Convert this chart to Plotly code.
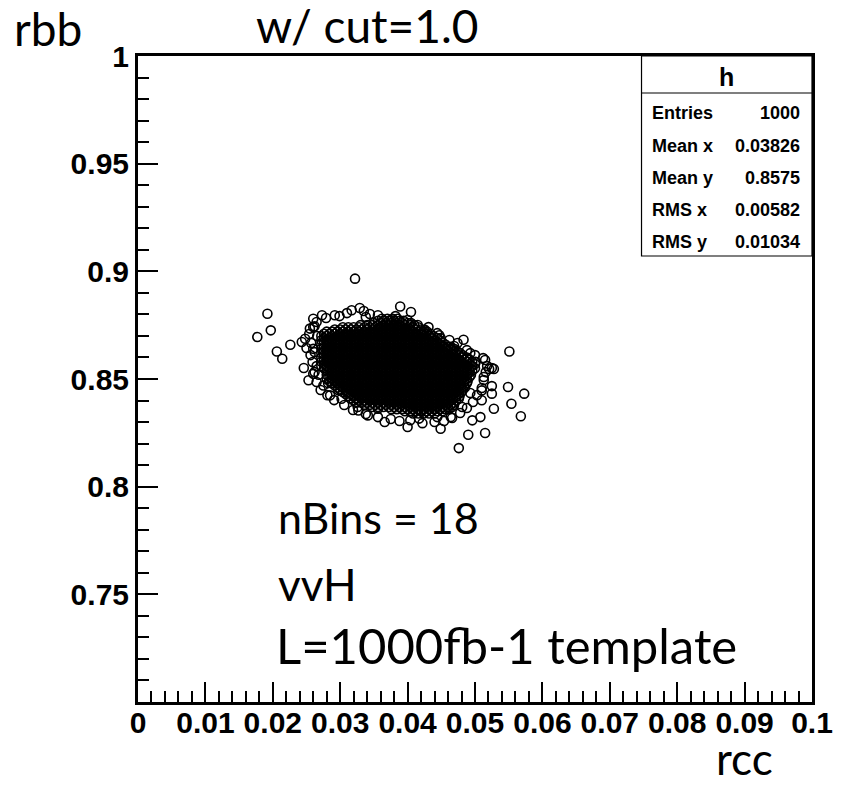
import plotly.graph_objects as go

# ---------------- data ----------------
# isolated / edge points around the dense core (rcc, rbb)
edge_rcc = [0.0322, 0.0192, 0.0197, 0.0177, 0.0206, 0.0214, 0.0226, 0.0260, 0.0273, 0.0292,
            0.0317, 0.0329, 0.0356, 0.0255, 0.0248, 0.0243, 0.0260, 0.0389, 0.0405, 0.0483,
            0.0469, 0.0551, 0.0447, 0.0246, 0.0260, 0.0253, 0.0285, 0.0302, 0.0327, 0.0341,
            0.0366, 0.0356, 0.0400, 0.0449, 0.0464, 0.0476, 0.0490, 0.0515, 0.0496, 0.0508,
            0.0528, 0.0510, 0.0525, 0.0525, 0.0549, 0.0554, 0.0573, 0.0568, 0.0525, 0.0510,
            0.0481, 0.0417, 0.0521, 0.0528, 0.0338, 0.0375, 0.0250, 0.0256, 0.0282, 0.0297,
            0.0326, 0.0444, 0.0493, 0.0513, 0.0515, 0.0493, 0.0449, 0.0425, 0.0405, 0.0262,
            0.0266, 0.0265, 0.0268, 0.0275]
edge_rbb = [0.8966, 0.8803, 0.8726, 0.8695, 0.8628, 0.8594, 0.8659, 0.8780, 0.8796, 0.8796,
            0.8819, 0.8830, 0.8796, 0.8734, 0.8687, 0.8672, 0.8640, 0.8837, 0.8811, 0.8682,
            0.8653, 0.8628, 0.8703, 0.8551, 0.8524, 0.8494, 0.8424, 0.8408, 0.8354, 0.8331,
            0.8300, 0.8362, 0.8277, 0.8269, 0.8323, 0.8179, 0.8241, 0.8249, 0.8308, 0.8323,
            0.8362, 0.8401, 0.8432, 0.8467, 0.8463, 0.8385, 0.8432, 0.8327, 0.8551, 0.8447,
            0.8370, 0.8316, 0.8547, 0.8547, 0.8788, 0.8774, 0.8644, 0.8611, 0.8481, 0.8449,
            0.8370, 0.8323, 0.8435, 0.8509, 0.8588, 0.8620, 0.8690, 0.8727, 0.8760, 0.8745,
            0.8700, 0.8560, 0.8520, 0.8470]

# open circles forming the ragged rim of the core
rim_rcc = [0.0265, 0.0279, 0.0299, 0.0310, 0.0335, 0.0344, 0.0382, 0.0400, 0.0415, 0.0431,
           0.0444, 0.0462, 0.0474, 0.0488, 0.0500, 0.0512, 0.0518, 0.0516, 0.0513, 0.0510,
           0.0503, 0.0497, 0.0488, 0.0478, 0.0466, 0.0454, 0.0440, 0.0422, 0.0404, 0.0388,
           0.0375, 0.0356, 0.0338, 0.0319, 0.0306, 0.0291, 0.0281, 0.0271, 0.0265, 0.0262,
           0.0259, 0.0262, 0.0257, 0.0254, 0.0260]
rim_rbb = [0.8765, 0.8783, 0.8792, 0.8806, 0.8816, 0.8802, 0.8792, 0.8774, 0.8751, 0.8741,
           0.8713, 0.8681, 0.8667, 0.8634, 0.8611, 0.8597, 0.8560, 0.8532, 0.8495, 0.8458,
           0.8425, 0.8393, 0.8365, 0.8342, 0.8319, 0.8305, 0.8300, 0.8295, 0.8309, 0.8305,
           0.8314, 0.8323, 0.8337, 0.8356, 0.8379, 0.8402, 0.8425, 0.8449, 0.8486, 0.8532,
           0.8579, 0.8625, 0.8667, 0.8709, 0.8741]

# dense (solid black) core, read row by row: rbb of each row and the rcc values along it
core_rbb_rows = [0.878, 0.877, 0.876, 0.875, 0.874, 0.873, 0.872, 0.871, 0.870, 0.869,
                 0.868, 0.867, 0.866, 0.865, 0.864, 0.863, 0.862, 0.861, 0.860, 0.859,
                 0.858, 0.857, 0.856, 0.855, 0.854, 0.853, 0.852, 0.851, 0.850, 0.849,
                 0.848, 0.847, 0.846, 0.845, 0.844, 0.843, 0.842, 0.841, 0.840, 0.839,
                 0.838, 0.837, 0.836, 0.835, 0.834]
core_rcc_rows = [
    [0.0362, 0.0370, 0.0378, 0.0385],
    [0.0356, 0.0364, 0.0372, 0.0380, 0.0388, 0.0394],
    [0.0350, 0.0360, 0.0368, 0.0376, 0.0384, 0.0392, 0.0400],
    [0.0330, 0.0340, 0.0348, 0.0356, 0.0364, 0.0372, 0.0380, 0.0388, 0.0396, 0.0404, 0.0410],
    [0.0304, 0.0312, 0.0320, 0.0328, 0.0336, 0.0344, 0.0352, 0.0360, 0.0368, 0.0376, 0.0384, 0.0392,
     0.0400, 0.0408, 0.0416],
    [0.0292, 0.0300, 0.0308, 0.0316, 0.0324, 0.0332, 0.0340, 0.0348, 0.0356, 0.0364, 0.0372, 0.0380,
     0.0388, 0.0396, 0.0404, 0.0412, 0.0420, 0.0425],
    [0.0280, 0.0288, 0.0296, 0.0304, 0.0312, 0.0320, 0.0328, 0.0336, 0.0344, 0.0352, 0.0360, 0.0368,
     0.0376, 0.0384, 0.0392, 0.0400, 0.0408, 0.0416, 0.0424, 0.0429],
    [0.0276, 0.0284, 0.0292, 0.0300, 0.0308, 0.0316, 0.0324, 0.0332, 0.0340, 0.0348, 0.0356, 0.0364,
     0.0372, 0.0380, 0.0388, 0.0396, 0.0404, 0.0412, 0.0420, 0.0428, 0.0434],
    [0.0272, 0.0280, 0.0288, 0.0296, 0.0304, 0.0312, 0.0320, 0.0328, 0.0336, 0.0344, 0.0352, 0.0360,
     0.0368, 0.0376, 0.0384, 0.0392, 0.0400, 0.0408, 0.0416, 0.0424, 0.0432, 0.0438],
    [0.0276, 0.0284, 0.0292, 0.0300, 0.0308, 0.0316, 0.0324, 0.0332, 0.0340, 0.0348, 0.0356, 0.0364,
     0.0372, 0.0380, 0.0388, 0.0396, 0.0404, 0.0412, 0.0420, 0.0428, 0.0436, 0.0444],
    [0.0272, 0.0280, 0.0288, 0.0296, 0.0304, 0.0312, 0.0320, 0.0328, 0.0336, 0.0344, 0.0352, 0.0360,
     0.0368, 0.0376, 0.0384, 0.0392, 0.0400, 0.0408, 0.0416, 0.0424, 0.0432, 0.0440, 0.0448],
    [0.0276, 0.0284, 0.0292, 0.0300, 0.0308, 0.0316, 0.0324, 0.0332, 0.0340, 0.0348, 0.0356, 0.0364,
     0.0372, 0.0380, 0.0388, 0.0396, 0.0404, 0.0412, 0.0420, 0.0428, 0.0436, 0.0444, 0.0452],
    [0.0272, 0.0280, 0.0288, 0.0296, 0.0304, 0.0312, 0.0320, 0.0328, 0.0336, 0.0344, 0.0352, 0.0360,
     0.0368, 0.0376, 0.0384, 0.0392, 0.0400, 0.0408, 0.0416, 0.0424, 0.0432, 0.0440, 0.0448, 0.0456],
    [0.0276, 0.0284, 0.0292, 0.0300, 0.0308, 0.0316, 0.0324, 0.0332, 0.0340, 0.0348, 0.0356, 0.0364,
     0.0372, 0.0380, 0.0388, 0.0396, 0.0404, 0.0412, 0.0420, 0.0428, 0.0436, 0.0444, 0.0452, 0.0460,
     0.0464],
    [0.0272, 0.0280, 0.0288, 0.0296, 0.0304, 0.0312, 0.0320, 0.0328, 0.0336, 0.0344, 0.0352, 0.0360,
     0.0368, 0.0376, 0.0384, 0.0392, 0.0400, 0.0408, 0.0416, 0.0424, 0.0432, 0.0440, 0.0448, 0.0456,
     0.0464, 0.0469],
    [0.0276, 0.0284, 0.0292, 0.0300, 0.0308, 0.0316, 0.0324, 0.0332, 0.0340, 0.0348, 0.0356, 0.0364,
     0.0372, 0.0380, 0.0388, 0.0396, 0.0404, 0.0412, 0.0420, 0.0428, 0.0436, 0.0444, 0.0452, 0.0460,
     0.0468, 0.0473],
    [0.0272, 0.0280, 0.0288, 0.0296, 0.0304, 0.0312, 0.0320, 0.0328, 0.0336, 0.0344, 0.0352, 0.0360,
     0.0368, 0.0376, 0.0384, 0.0392, 0.0400, 0.0408, 0.0416, 0.0424, 0.0432, 0.0440, 0.0448, 0.0456,
     0.0464, 0.0472, 0.0478],
    [0.0276, 0.0284, 0.0292, 0.0300, 0.0308, 0.0316, 0.0324, 0.0332, 0.0340, 0.0348, 0.0356, 0.0364,
     0.0372, 0.0380, 0.0388, 0.0396, 0.0404, 0.0412, 0.0420, 0.0428, 0.0436, 0.0444, 0.0452, 0.0460,
     0.0468, 0.0476, 0.0482],
    [0.0272, 0.0280, 0.0288, 0.0296, 0.0304, 0.0312, 0.0320, 0.0328, 0.0336, 0.0344, 0.0352, 0.0360,
     0.0368, 0.0376, 0.0384, 0.0392, 0.0400, 0.0408, 0.0416, 0.0424, 0.0432, 0.0440, 0.0448, 0.0456,
     0.0464, 0.0472, 0.0480, 0.0488],
    [0.0276, 0.0284, 0.0292, 0.0300, 0.0308, 0.0316, 0.0324, 0.0332, 0.0340, 0.0348, 0.0356, 0.0364,
     0.0372, 0.0380, 0.0388, 0.0396, 0.0404, 0.0412, 0.0420, 0.0428, 0.0436, 0.0444, 0.0452, 0.0460,
     0.0468, 0.0476, 0.0484, 0.0492],
    [0.0272, 0.0280, 0.0288, 0.0296, 0.0304, 0.0312, 0.0320, 0.0328, 0.0336, 0.0344, 0.0352, 0.0360,
     0.0368, 0.0376, 0.0384, 0.0392, 0.0400, 0.0408, 0.0416, 0.0424, 0.0432, 0.0440, 0.0448, 0.0456,
     0.0464, 0.0472, 0.0480, 0.0488, 0.0496, 0.0501],
    [0.0276, 0.0284, 0.0292, 0.0300, 0.0308, 0.0316, 0.0324, 0.0332, 0.0340, 0.0348, 0.0356, 0.0364,
     0.0372, 0.0380, 0.0388, 0.0396, 0.0404, 0.0412, 0.0420, 0.0428, 0.0436, 0.0444, 0.0452, 0.0460,
     0.0468, 0.0476, 0.0484, 0.0492, 0.0500],
    [0.0272, 0.0280, 0.0288, 0.0296, 0.0304, 0.0312, 0.0320, 0.0328, 0.0336, 0.0344, 0.0352, 0.0360,
     0.0368, 0.0376, 0.0384, 0.0392, 0.0400, 0.0408, 0.0416, 0.0424, 0.0432, 0.0440, 0.0448, 0.0456,
     0.0464, 0.0472, 0.0480, 0.0488, 0.0496],
    [0.0276, 0.0284, 0.0292, 0.0300, 0.0308, 0.0316, 0.0324, 0.0332, 0.0340, 0.0348, 0.0356, 0.0364,
     0.0372, 0.0380, 0.0388, 0.0396, 0.0404, 0.0412, 0.0420, 0.0428, 0.0436, 0.0444, 0.0452, 0.0460,
     0.0468, 0.0476, 0.0484, 0.0492, 0.0500],
    [0.0280, 0.0288, 0.0296, 0.0304, 0.0312, 0.0320, 0.0328, 0.0336, 0.0344, 0.0352, 0.0360, 0.0368,
     0.0376, 0.0384, 0.0392, 0.0400, 0.0408, 0.0416, 0.0424, 0.0432, 0.0440, 0.0448, 0.0456, 0.0464,
     0.0472, 0.0480, 0.0488, 0.0496],
    [0.0284, 0.0292, 0.0300, 0.0308, 0.0316, 0.0324, 0.0332, 0.0340, 0.0348, 0.0356, 0.0364, 0.0372,
     0.0380, 0.0388, 0.0396, 0.0404, 0.0412, 0.0420, 0.0428, 0.0436, 0.0444, 0.0452, 0.0460, 0.0468,
     0.0476, 0.0484, 0.0492],
    [0.0280, 0.0288, 0.0296, 0.0304, 0.0312, 0.0320, 0.0328, 0.0336, 0.0344, 0.0352, 0.0360, 0.0368,
     0.0376, 0.0384, 0.0392, 0.0400, 0.0408, 0.0416, 0.0424, 0.0432, 0.0440, 0.0448, 0.0456, 0.0464,
     0.0472, 0.0480, 0.0488, 0.0494],
    [0.0284, 0.0292, 0.0300, 0.0308, 0.0316, 0.0324, 0.0332, 0.0340, 0.0348, 0.0356, 0.0364, 0.0372,
     0.0380, 0.0388, 0.0396, 0.0404, 0.0412, 0.0420, 0.0428, 0.0436, 0.0444, 0.0452, 0.0460, 0.0468,
     0.0476, 0.0484, 0.0492],
    [0.0280, 0.0288, 0.0296, 0.0304, 0.0312, 0.0320, 0.0328, 0.0336, 0.0344, 0.0352, 0.0360, 0.0368,
     0.0376, 0.0384, 0.0392, 0.0400, 0.0408, 0.0416, 0.0424, 0.0432, 0.0440, 0.0448, 0.0456, 0.0464,
     0.0472, 0.0480, 0.0488],
    [0.0284, 0.0292, 0.0300, 0.0308, 0.0316, 0.0324, 0.0332, 0.0340, 0.0348, 0.0356, 0.0364, 0.0372,
     0.0380, 0.0388, 0.0396, 0.0404, 0.0412, 0.0420, 0.0428, 0.0436, 0.0444, 0.0452, 0.0460, 0.0468,
     0.0476, 0.0484, 0.0489],
    [0.0288, 0.0296, 0.0304, 0.0312, 0.0320, 0.0328, 0.0336, 0.0344, 0.0352, 0.0360, 0.0368, 0.0376,
     0.0384, 0.0392, 0.0400, 0.0408, 0.0416, 0.0424, 0.0432, 0.0440, 0.0448, 0.0456, 0.0464, 0.0472,
     0.0480, 0.0488],
    [0.0292, 0.0300, 0.0308, 0.0316, 0.0324, 0.0332, 0.0340, 0.0348, 0.0356, 0.0364, 0.0372, 0.0380,
     0.0388, 0.0396, 0.0404, 0.0412, 0.0420, 0.0428, 0.0436, 0.0444, 0.0452, 0.0460, 0.0468, 0.0476,
     0.0484],
    [0.0296, 0.0304, 0.0312, 0.0320, 0.0328, 0.0336, 0.0344, 0.0352, 0.0360, 0.0368, 0.0376, 0.0384,
     0.0392, 0.0400, 0.0408, 0.0416, 0.0424, 0.0432, 0.0440, 0.0448, 0.0456, 0.0464, 0.0472, 0.0480,
     0.0485],
    [0.0300, 0.0308, 0.0316, 0.0324, 0.0332, 0.0340, 0.0348, 0.0356, 0.0364, 0.0372, 0.0380, 0.0388,
     0.0396, 0.0404, 0.0412, 0.0420, 0.0428, 0.0436, 0.0444, 0.0452, 0.0460, 0.0468, 0.0476, 0.0482],
    [0.0304, 0.0312, 0.0320, 0.0328, 0.0336, 0.0344, 0.0352, 0.0360, 0.0368, 0.0376, 0.0384, 0.0392,
     0.0400, 0.0408, 0.0416, 0.0424, 0.0432, 0.0440, 0.0448, 0.0456, 0.0464, 0.0472, 0.0480],
    [0.0308, 0.0316, 0.0324, 0.0332, 0.0340, 0.0348, 0.0356, 0.0364, 0.0372, 0.0380, 0.0388, 0.0396,
     0.0404, 0.0412, 0.0420, 0.0428, 0.0436, 0.0444, 0.0452, 0.0460, 0.0468, 0.0476],
    [0.0312, 0.0320, 0.0328, 0.0336, 0.0344, 0.0352, 0.0360, 0.0368, 0.0376, 0.0384, 0.0392, 0.0400,
     0.0408, 0.0416, 0.0424, 0.0432, 0.0440, 0.0448, 0.0456, 0.0464, 0.0472, 0.0477],
    [0.0316, 0.0324, 0.0332, 0.0340, 0.0348, 0.0356, 0.0364, 0.0372, 0.0380, 0.0388, 0.0396, 0.0404,
     0.0412, 0.0420, 0.0428, 0.0436, 0.0444, 0.0452, 0.0460, 0.0468, 0.0476],
    [0.0320, 0.0328, 0.0336, 0.0344, 0.0352, 0.0360, 0.0368, 0.0376, 0.0384, 0.0392, 0.0400, 0.0408,
     0.0416, 0.0424, 0.0432, 0.0440, 0.0448, 0.0456, 0.0464, 0.0472],
    [0.0324, 0.0332, 0.0340, 0.0348, 0.0356, 0.0364, 0.0372, 0.0380, 0.0388, 0.0396, 0.0404, 0.0412,
     0.0420, 0.0428, 0.0436, 0.0444, 0.0452, 0.0460, 0.0468],
    [0.0336, 0.0344, 0.0352, 0.0360, 0.0368, 0.0376, 0.0384, 0.0392, 0.0400, 0.0408, 0.0416, 0.0424,
     0.0432, 0.0440, 0.0448, 0.0456, 0.0464, 0.0469],
    [0.0348, 0.0356, 0.0364, 0.0372, 0.0380, 0.0388, 0.0396, 0.0404, 0.0412, 0.0420, 0.0428, 0.0436,
     0.0444, 0.0452, 0.0460, 0.0466],
    [0.0376, 0.0384, 0.0392, 0.0400, 0.0408, 0.0416, 0.0424, 0.0432, 0.0440, 0.0448, 0.0456, 0.0461],
    [0.0396, 0.0404, 0.0412, 0.0420, 0.0428, 0.0436, 0.0444, 0.0452],
    [0.0408, 0.0416, 0.0424, 0.0432, 0.0440],
]

x_tickvals = [0.0, 0.01, 0.02, 0.03, 0.04, 0.05, 0.06, 0.07, 0.08, 0.09, 0.1]
x_ticktext = ["0", "0.01", "0.02", "0.03", "0.04", "0.05", "0.06", "0.07", "0.08", "0.09", "0.1"]
y_tickvals = [0.75, 0.8, 0.85, 0.9, 0.95, 1.0]
y_ticktext = ["0.75", "0.8", "0.85", "0.9", "0.95", "1"]

stat_labels = ["Entries", "Mean x", "Mean y", "RMS x", "RMS y"]
stat_values = ["1000", "0.03826", "0.8575", "0.00582", "0.01034"]

# ---------------- figure ----------------
xs, ys = [], []
for yv, row in zip(core_rbb_rows, core_rcc_rows):
    xs.extend(row)
    ys.extend([yv] * len(row))
xs.extend(rim_rcc)
ys.extend(rim_rbb)
xs.extend(edge_rcc)
ys.extend(edge_rbb)

W, H = 845, 786
L, R, T, B = 138, 27, 56, 84
pw, ph = W - L - R, H - T - B


def px(xp):
    return (xp - L) / pw


def py(yp):
    return (H - B - yp) / ph


fig = go.Figure()
fig.add_trace(go.Scatter(
    x=xs, y=ys, mode="markers",
    marker=dict(symbol="circle-open", size=9, color="black", line=dict(width=1.6, color="black")),
    hoverinfo="skip", showlegend=False,
))

tickfont = dict(family="Liberation Sans, Arial, sans-serif", size=30, color="black", weight="bold")

fig.update_xaxes(
    range=[0, 0.1], tickmode="array", tickvals=x_tickvals, ticktext=x_ticktext,
    ticks="inside", ticklen=20, tickwidth=1.5, tickcolor="black",
    minor=dict(ticks="inside", ticklen=11, tickwidth=1.5, tickcolor="black", tickmode="linear", tick0=0, dtick=0.002),
    showline=True, linewidth=3, linecolor="black", mirror=True,
    showgrid=False, zeroline=False, tickfont=tickfont, ticklabelstandoff=-8,
)
fig.update_yaxes(
    range=[0.7, 1.0], tickmode="array", tickvals=y_tickvals, ticktext=y_ticktext,
    ticks="inside", ticklen=20, tickwidth=1.5, tickcolor="black",
    minor=dict(ticks="inside", ticklen=11, tickwidth=1.5, tickcolor="black", tickmode="linear", tick0=0.7, dtick=0.01),
    showline=True, linewidth=3, linecolor="black", mirror=True,
    showgrid=False, zeroline=False, tickfont=tickfont, ticklabelstandoff=0,
)

# stats box
box_x0 = 646
box_bottom = 256
head_line = 93
shapes = [
    dict(type="rect", xref="paper", yref="paper", x0=px(box_x0), x1=1, y0=py(box_bottom), y1=1,
         line=dict(color="black", width=1.2), fillcolor="white", layer="above"),
    dict(type="line", xref="paper", yref="paper", x0=px(box_x0), x1=1, y0=py(head_line), y1=py(head_line),
         line=dict(color="black", width=1.2), layer="above"),
]

annos = []
statfont = dict(family="Liberation Sans, Arial, sans-serif", size=18, color="black", weight="bold")
annos.append(dict(text="h", x=px((box_x0 + 818) / 2), y=py(77), xref="paper", yref="paper",
                  xanchor="center", yanchor="middle", showarrow=False,
                  font=dict(family="Liberation Sans, Arial, sans-serif", size=25, color="black", weight="bold")))
row_y = [113, 146, 178, 210, 242]
for lab, val, yy in zip(stat_labels, stat_values, row_y):
    annos.append(dict(text=lab, x=px(655), y=py(yy), xref="paper", yref="paper", xanchor="left",
                      yanchor="middle", showarrow=False, font=statfont))
    annos.append(dict(text=val, x=px(808), y=py(yy), xref="paper", yref="paper", xanchor="right",
                      yanchor="middle", showarrow=False, font=statfont))

texts = [
    ("rbb", 12, 29, 46),
    ("w/ cut=1.0", 256, 26, 46),
    ("nBins = 18", 278, 517, 43),
    ("vvH", 278, 584, 44),
    ("L=1000fb-1 template", 276, 645, 49),
    ("rcc", 720, 758, 44),
]
for t, xx, yy, fs in texts:
    annos.append(dict(text=t, x=px(xx), y=py(yy), xref="paper", yref="paper", xanchor="left",
                      yanchor="middle", showarrow=False, borderpad=0,
                      font=dict(family="Lato, Open Sans, sans-serif", size=fs, color="black")))

fig.update_layout(
    width=W, height=H, margin=dict(l=L, r=R, t=T, b=B),
    plot_bgcolor="white", paper_bgcolor="white",
    shapes=shapes, annotations=annos, showlegend=False,
)

fig.write_html("out.html", config={"displayModeBar": False},
               post_script="document.body.style.margin='0px';document.body.style.padding='0px';")
